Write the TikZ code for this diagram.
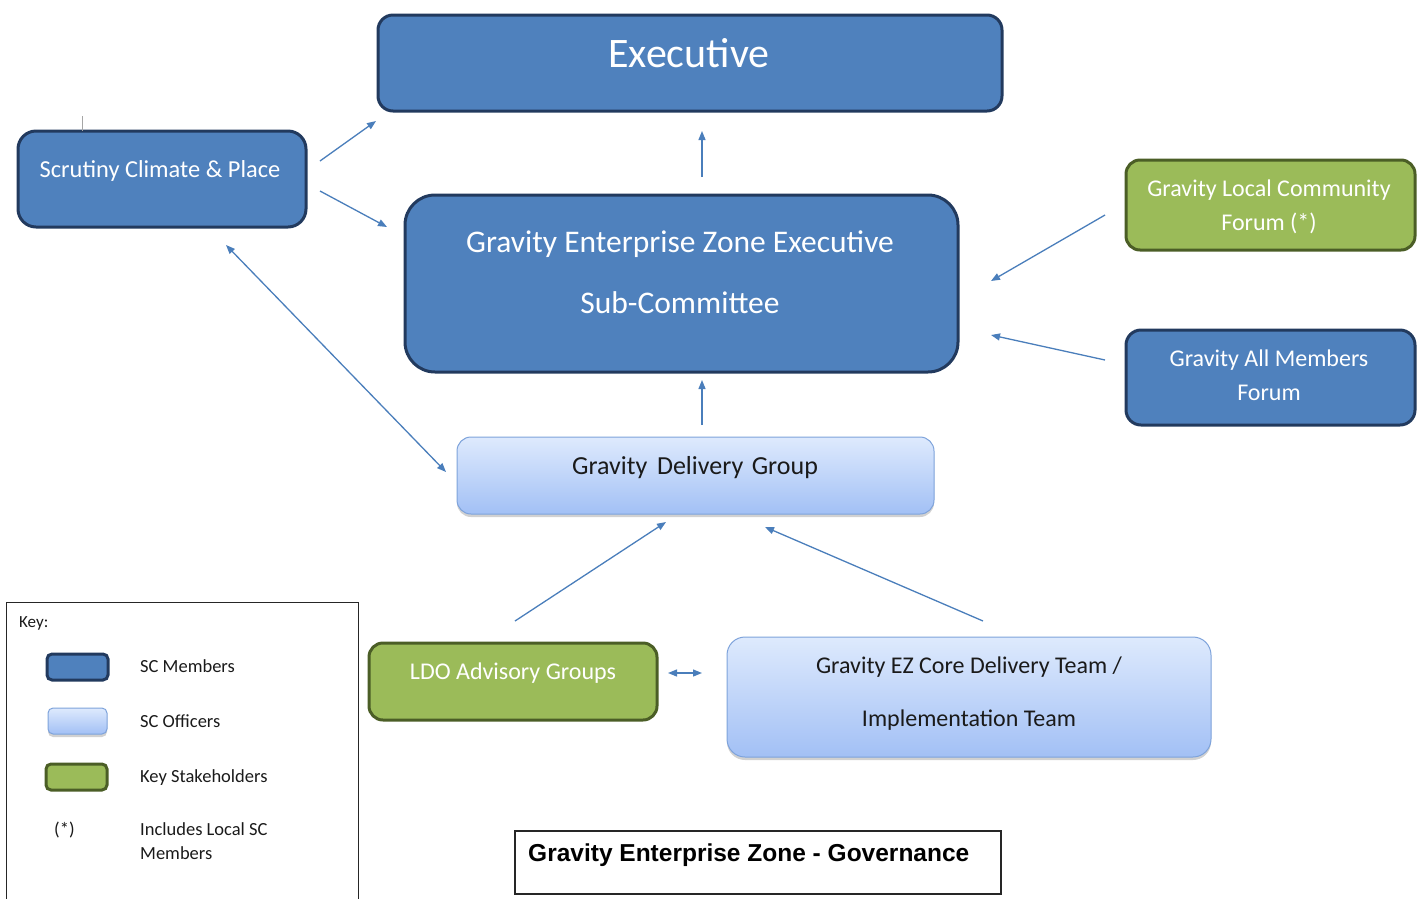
\documentclass[tikz,border=0pt]{standalone}
\usepackage{fontspec}
\setmainfont{Carlito}
\newfontfamily\titlefont{Liberation Sans}
\usetikzlibrary{arrows.meta,shadows}

\definecolor{memberfill}{HTML}{4F81BD}
\definecolor{memberedge}{HTML}{223A5E}
\definecolor{stakefill}{HTML}{9BBB59}
\definecolor{stakeedge}{HTML}{4B5E26}
\definecolor{officertop}{HTML}{DEEAFD}
\definecolor{officerbot}{HTML}{A2C0F5}
\definecolor{officeredge}{HTML}{7EA3DB}
\definecolor{linkblue}{HTML}{4A7EBB}
\definecolor{darktext}{HTML}{1A1A1A}

\tikzset{
  box/.style={inner sep=0pt, outer sep=0pt},
  member/.style={box, draw=memberedge, fill=memberfill, line width=3pt, rounded corners=#1},
  member/.default=15pt,
  stake/.style={box, draw=stakeedge, fill=stakefill, line width=3pt, rounded corners=#1},
  stake/.default=14pt,
  officer/.style={box, draw=officeredge, line width=1pt, top color=officertop,
    bottom color=officerbot, rounded corners=#1,
    drop shadow={shadow xshift=0pt, shadow yshift=-3pt, opacity=0.18, fill=black}},
  officer/.default=14pt,
  wtext/.style={inner sep=0pt, text=white, align=center},
  btext/.style={inner sep=0pt, text=darktext, align=center},
  keytext/.style={inner sep=0pt, text=darktext, align=left, anchor=mid west,
    font=\fontsize{18.5}{24}\selectfont},
  link/.style={draw=linkblue, line width=1.3pt, -{Triangle[length=9pt,width=7pt]}},
  twolink/.style={draw=linkblue, line width=1.3pt,
    {Triangle[length=9pt,width=7pt]}-{Triangle[length=9pt,width=7pt]}},
}

\begin{document}
\begin{tikzpicture}[x=1pt,y=-1pt]
\useasboundingbox (0,0) rectangle (1424,898);

% ---- boxes ----
\node[member] (exe) at (690,63) [minimum width=624, minimum height=96] {};
\node[wtext, anchor=mid, font=\fontsize{42}{46}\selectfont] (exet) at (689,65) {Executive};

\node[member=18pt] (scr) at (162,179) [minimum width=288, minimum height=96] {};
\node[wtext, anchor=mid, font=\fontsize{24.4}{28}\selectfont] (scrt) at (160,175) {Scrutiny Climate \& Place};
\draw[black!35, line width=0.8pt] (82,116) -- (scr.north -| 82,0);

\node[member=30pt] (sub) at (681.5,283.5) [minimum width=553, minimum height=177] {};
\node[wtext, anchor=mid, font=\fontsize{31.5}{36}\selectfont] (subt1) at (680,250) {Gravity Enterprise Zone Executive};
\node[wtext, anchor=mid, font=\fontsize{31.5}{36}\selectfont] (subt2) at (680,311) {Sub-Committee};

\node[officer] (dlv) at (695.5,475.5) [minimum width=477, minimum height=77] {};
\node[btext, anchor=mid, font=\fontsize{26}{30}\selectfont] (dlvt) at (695,472) {Gravity\hspace{0.15em} Delivery\hspace{0.1em} Group};

\node[stake] (lcf) at (1270.5,205) [minimum width=289, minimum height=90] {};
\node[wtext, anchor=mid, font=\fontsize{24}{28}\selectfont] (lcft1) at (1269,194) {Gravity Local Community};
\node[wtext, anchor=mid, font=\fontsize{24}{28}\selectfont] (lcft2) at (1269,228) {Forum (*)};

\node[member] (amf) at (1270.5,377.5) [minimum width=289, minimum height=95] {};
\node[wtext, anchor=mid, font=\fontsize{24}{28}\selectfont] (amft1) at (1269,364) {Gravity All Members};
\node[wtext, anchor=mid, font=\fontsize{24}{28}\selectfont] (amft2) at (1269,398) {Forum};

\node[stake] (ldo) at (513,681.5) [minimum width=288, minimum height=77] {};
\node[wtext, anchor=mid, font=\fontsize{24}{28}\selectfont] (ldot) at (513,677) {LDO Advisory Groups};

\node[officer=18pt] (core) at (969,697) [minimum width=484, minimum height=120] {};
\node[btext, anchor=mid, font=\fontsize{24}{28}\selectfont] (coret1) at (969,671) {Gravity EZ Core Delivery Team /};
\node[btext, anchor=mid, font=\fontsize{24}{28}\selectfont] (coret2) at (969,724) {Implementation Team};

% ---- connectors ----
\coordinate (s1) at (320,161);  \coordinate (e1) at (376,121);
\coordinate (s2) at (320,191);  \coordinate (e2) at (387,227);
\coordinate (s3) at (702,177);  \coordinate (e3) at (702,131);
\coordinate (s4) at (226,245);  \coordinate (e4) at (446,472);
\coordinate (s5) at (702,425);  \coordinate (e5) at (702,380);
\coordinate (s6) at (1105,215); \coordinate (e6) at (991,281);
\coordinate (s7) at (1105,360); \coordinate (e7) at (991,335);
\coordinate (s8) at (515,621);  \coordinate (e8) at (666,522);
\coordinate (s9) at (983,621);  \coordinate (e9) at (765,527);
\coordinate (s10) at (668,673); \coordinate (e10) at (702,673);

\draw[link] (s1) -- (e1);
\draw[link] (s2) -- (e2);
\draw[link] (s3) -- (e3);
\draw[twolink] (s4) -- (e4);
\draw[link] (s5) -- (e5);
\draw[link] (s6) -- (e6);
\draw[link] (s7) -- (e7);
\draw[link] (s8) -- (e8);
\draw[link] (s9) -- (e9);
\draw[twolink] (s10) -- (e10);

% ---- key ----
\node[draw=black!85, line width=1pt, inner sep=0pt, minimum width=352, minimum height=320,
  anchor=north west] (key) at (6,602) {};
\node[keytext, font=\fontsize{17}{22}\selectfont] (keyt) at (19,625) {Key:};

\node[member=5pt] (kmem) at (77.5,667) [minimum width=61, minimum height=26] {};
\node[keytext] (kmemt) at (140,670) {SC Members};
\node[officer=5pt] (koff) at (77.5,721) [minimum width=59, minimum height=26] {};
\node[keytext] (kofft) at (140,725) {SC Officers};
\node[stake=5pt] (kstk) at (76.5,777) [minimum width=61, minimum height=26] {};
\node[keytext] (kstkt) at (140,780) {Key Stakeholders};
\node[keytext] (kast) at (54,833) {(*)};
\node[keytext, anchor=north west] (kastt) at (140,822) {Includes Local SC\\Members};

% ---- title ----
\node[draw=black!85, line width=1.2pt, inner sep=0pt, minimum width=486, minimum height=63]
  (ttl) at (758,862.5) {};
\node[inner sep=0pt, anchor=mid west, font=\titlefont\bfseries\fontsize{24.5}{28}\selectfont]
  (ttlt) at (528,859) {Gravity Enterprise Zone - Governance};
\end{tikzpicture}
\end{document}
